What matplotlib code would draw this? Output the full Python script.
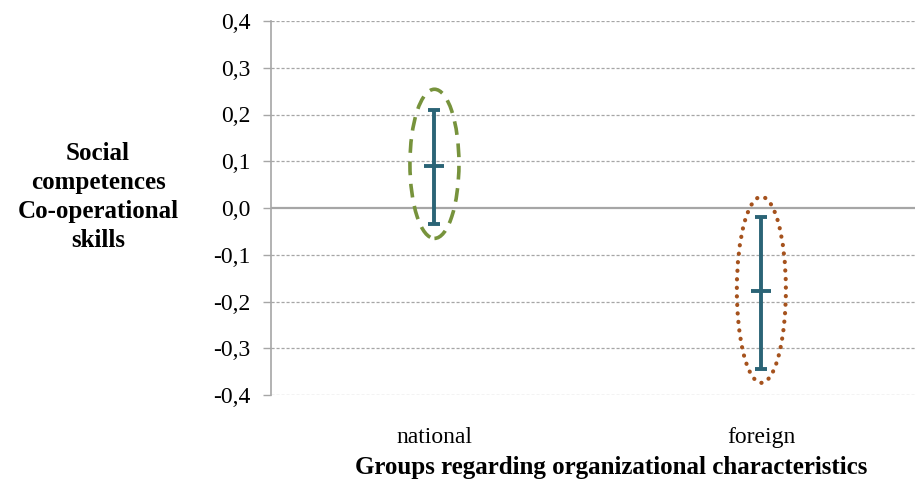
import matplotlib

matplotlib.use("Agg")
import matplotlib.pyplot as plt
import numpy as np
from matplotlib.patches import Ellipse

# values
groups = ["national", "foreign"]
means = [0.09, -0.178]
lower = [-0.035, -0.344]
upper = [0.21, -0.02]
y_ticks = [-0.4, -0.3, -0.2, -0.1, 0.0, 0.1, 0.2, 0.3, 0.4]

bar_color = "#2b6476"
grid_color = "#a6a6a6"
ring_styles = [
    dict(edgecolor="#77933c", linestyle=(0, (3.8, 2.4)), linewidth=2.6),
    dict(edgecolor="#a5521d", linestyle=(0, (0.05, 2.0)), linewidth=3.0, capstyle="round"),
]

plt.rcParams["font.family"] = ["Liberation Serif", "DejaVu Serif"]

figure = plt.figure(figsize=(9.15, 4.83), dpi=100)
axis = figure.add_axes([271 / 915, 1 - 395 / 483, 1 - 271 / 915, (395 - 21) / 483])

x = np.arange(len(groups))
means_arr = np.array(means)
yerr = [means_arr - np.array(lower), np.array(upper) - means_arr]

for ytick in y_ticks:
    if ytick == 0.0:
        axis.axhline(ytick, color=grid_color, linewidth=1.6, zorder=1)
    else:
        axis.axhline(ytick, color=grid_color, linewidth=0.9,
                     linestyle=(0, (2.5, 1.5)), zorder=1)

axis.errorbar(x, means, yerr=yerr, fmt="none", ecolor=bar_color,
              elinewidth=2.8, capsize=4, capthick=2.8, zorder=3)
axis.plot(x, means, linestyle="none", marker="_", markersize=15,
          markeredgewidth=2.8, color=bar_color, zorder=4)

# hand-drawn rings around each interval, a bit more room above than below
for xi, lo, hi, style in zip(x, lower, upper, ring_styles):
    top = hi + 0.044
    bottom = lo - 0.03
    axis.add_patch(Ellipse((xi, (top + bottom) / 2), 0.15, top - bottom,
                           facecolor="none", zorder=2, **style))

axis.set_xlim(-0.5, 1.47)
axis.set_ylim(-0.4, 0.4)
axis.set_yticks(y_ticks)
axis.set_yticklabels([f"{t:.1f}".replace(".", ",") for t in y_ticks], fontsize=17)
axis.set_xticks(x)
axis.set_xticklabels(groups, fontsize=17)

axis.tick_params(axis="y", length=6, width=1.0, color=grid_color, pad=9)
axis.tick_params(axis="x", length=0, pad=23)

for side in ["top", "right", "bottom"]:
    axis.spines[side].set_visible(False)
axis.spines["left"].set_color(grid_color)
axis.spines["left"].set_linewidth(1.2)

axis.set_xlabel("Groups regarding organizational characteristics",
                fontsize=18, fontweight="bold", labelpad=0)
axis.xaxis.set_label_coords((611 - 271) / 644, -0.163)
figure.text(98 / 915, 1 - 197 / 483, "Social\ncompetences\nCo-operational\nskills",
            ha="center", va="center", fontsize=18, fontweight="bold",
            linespacing=1.33)

figure.savefig("out.png", dpi=100)
